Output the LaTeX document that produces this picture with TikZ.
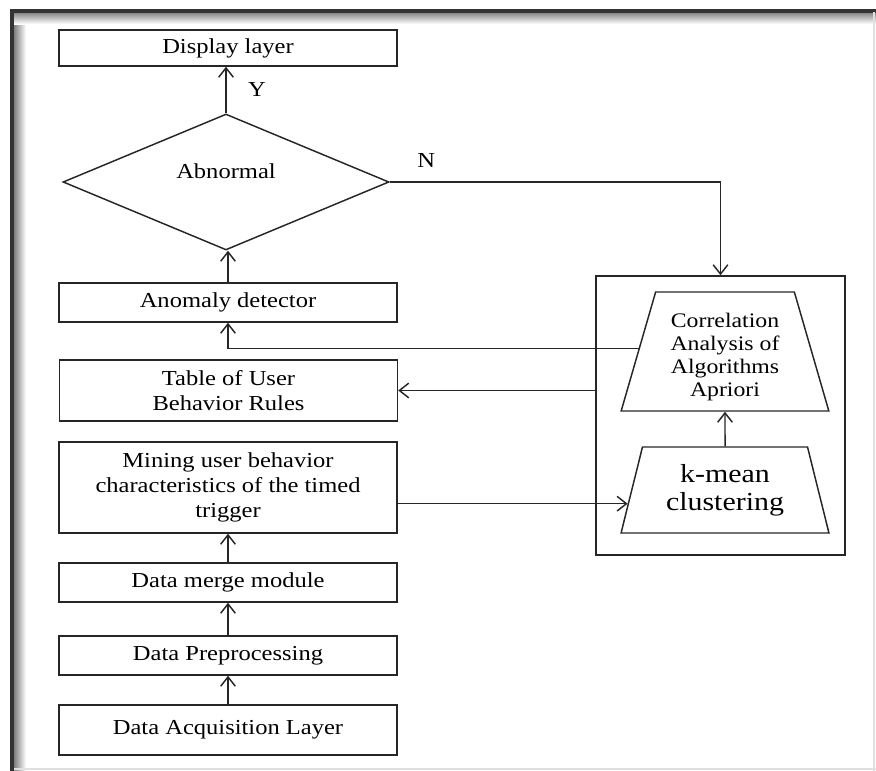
\documentclass[tikz,border=0pt]{standalone}
\usepackage{fontspec}
\setmainfont{Liberation Serif}[FakeStretch=1.15]
\usetikzlibrary{shapes.geometric,arrows.meta}

\begin{document}
\begin{tikzpicture}[x=0.75pt, y=-0.75pt,
    >={Straight Barb[length=7pt,width=11pt]},
    every node/.style={font=\fontsize{16}{18.75}\selectfont},
    layerbox/.style={draw=black!85, line width=1.1pt, rectangle, minimum width=253.5pt, align=center, inner sep=2pt},
    algobox/.style={draw=black!85, line width=1.1pt, trapezium, trapezium stretches=true, align=center, inner sep=0pt, minimum width=156pt},
    link/.style={->, draw=black!85, line width=1.1pt}]
    \useasboundingbox (0,0) rectangle (876,771);
    % frame with shadow
    \shade[left color=black!50, right color=white] (14,12) rectangle (26,771);
    \shade[top color=black!50, bottom color=white] (14,12) rectangle (876,24);
    \draw[line width=2.6pt, black!80] (12,771) -- (12,11) -- (876,11);
    \draw[black!12, line width=2pt] (874,12) -- (874,771);
    \draw[black!12, line width=2pt] (14,769) -- (876,769);

    \node[layerbox, minimum height=27pt] (disp) at (228,48) {Display layer};
    \node[draw=black!85, line width=1.1pt, diamond, aspect=2.4, minimum width=244.5pt, minimum height=102pt, inner sep=0pt] (abn) at (226,182) {\raisebox{16.5pt}{Abnormal}};
    \node[layerbox, minimum height=29.25pt] (anom) at (228,302.5) {Anomaly detector};
    \node[layerbox, minimum height=45.75pt] (tab) at (228.5,390.5) {Table of User\\Behavior Rules};
    \node[layerbox, minimum height=68.25pt] (mine) at (228,487.5) {Mining user behavior\\characteristics of the timed\\trigger};
    \node[layerbox, minimum height=29.25pt] (merge) at (228,582.5) {Data merge module};
    \node[layerbox, minimum height=29.25pt] (prep) at (228,655.5) {Data Preprocessing};
    \node[layerbox, minimum height=37.5pt] (acq) at (228,730) {Data Acquisition Layer};

    % mining algorithms
    \node[draw=black!85, line width=1.1pt, minimum width=186.75pt, minimum height=209.25pt] (grp) at (720.5,415.5) {};
    \node[algobox, trapezium angle=73.6, minimum height=89.25pt, font=\fontsize{15.5}{17.25}\selectfont] (corr) at (725,351.5)
        {\raisebox{-4.5pt}[\height][\depth]{\begin{tabular}{@{}c@{}}Correlation\\Analysis of\\Algorithms\\Apriori\end{tabular}}};
    \node[algobox, trapezium angle=73.5, minimum height=64.5pt, font=\fontsize{19.5}{21}\selectfont] (kmean) at (725,490) {k-mean\\clustering};

    \draw[link] (acq) -- (prep);
    \draw[link] (prep) -- (merge);
    \draw[link] (merge) -- (mine);
    \draw[link] (anom.north) -- (anom.north |- abn.south);
    \draw[link] (abn.north) -- node[right=16pt, inner sep=0pt]{Y} (abn.north |- disp.south);
    \draw[link] (abn.east) -- node[pos=.11, above=10pt, inner sep=0pt]{N} (abn.east -| grp.north) -- (grp.north);
    \draw[link] (corr.178) -| (anom.south);
    \draw[link] (grp.west |- tab.east) -- (tab.east);
    \draw[link] (mine.east |- kmean.188) -- (kmean.188);
    \draw[link] (kmean) -- (corr);
\end{tikzpicture}
\end{document}
